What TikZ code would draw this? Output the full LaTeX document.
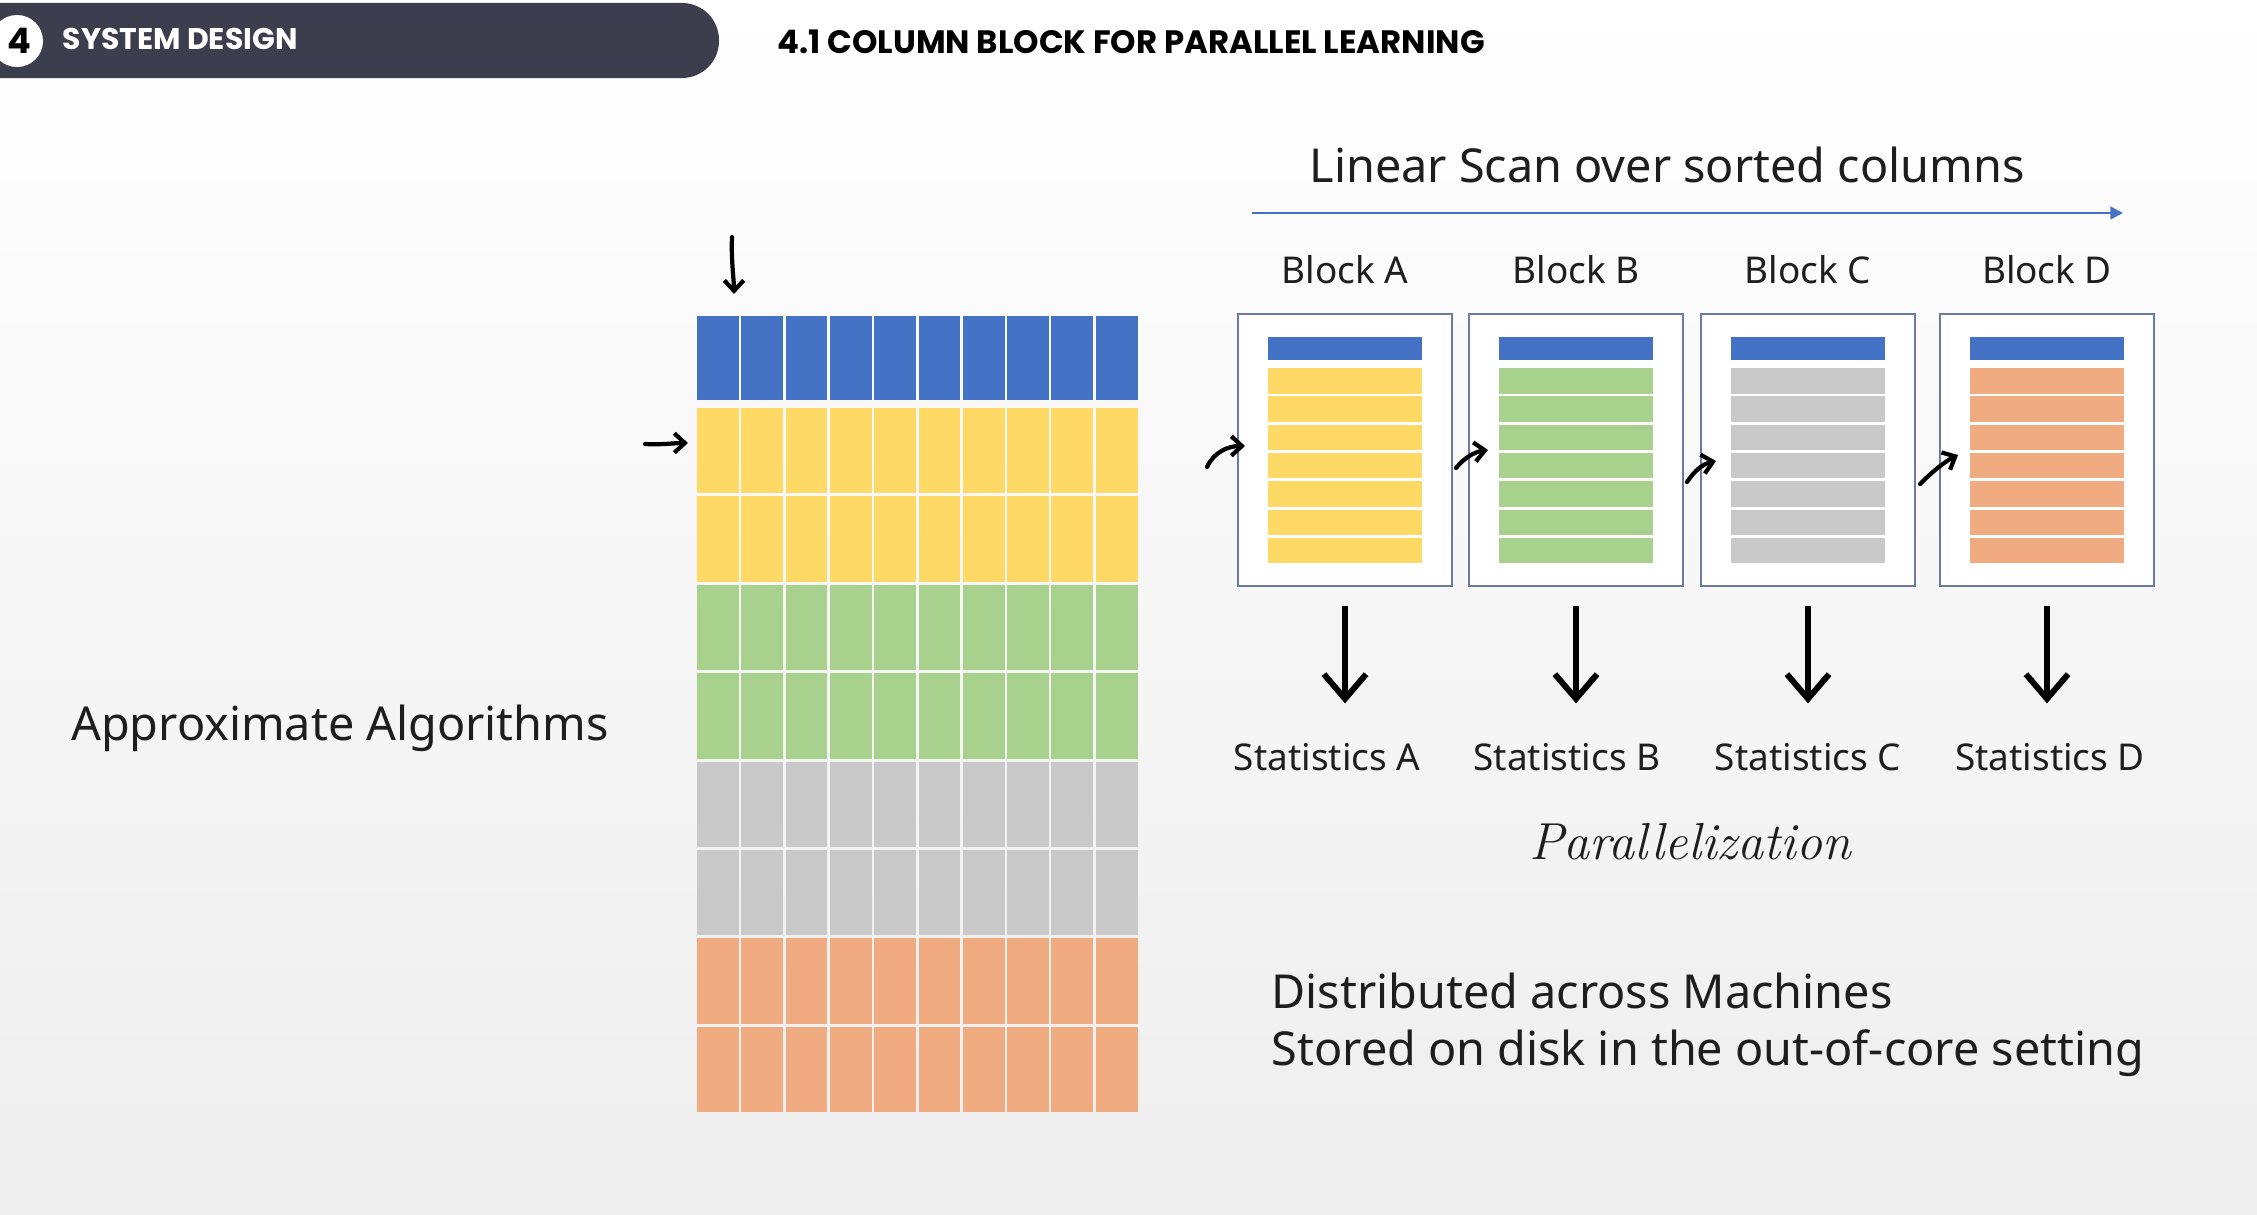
\documentclass[tikz,border=0pt]{standalone}
\usepackage{fontspec}
\setsansfont{Noto Sans}
\newfontfamily\headfont{Poppins}
\usepackage{tikz}
\usetikzlibrary{positioning,arrows.meta,calc}
\definecolor{headbar}{RGB}{60,61,77}
\definecolor{scanblue}{RGB}{68,114,196}
\definecolor{cellyellow}{RGB}{255,217,102}
\definecolor{cellgreen}{RGB}{169,209,142}
\definecolor{cellgray}{RGB}{201,201,201}
\definecolor{cellorange}{RGB}{240,172,128}
\definecolor{frameblue}{RGB}{108,120,166}
\definecolor{textdark}{RGB}{30,30,30}
\definecolor{bgbottom}{RGB}{238,238,238}

\begin{document}
\begin{tikzpicture}[x=0.01cm, y=-0.01cm]
    \tikzstyle{blockframe} = [rectangle, draw=frameblue, line width=0.7pt, fill=white, minimum width=2.14cm, minimum height=2.72cm, inner sep=0pt]
    \tikzstyle{blocktitle} = [font=\sffamily\fontsize{10.5}{12}\selectfont, text=textdark]
    \tikzstyle{stattext} = [font=\sffamily\fontsize{10.5}{12}\selectfont, text=textdark]
    \tikzstyle{bigtext} = [font=\sffamily\fontsize{13.3}{16.2}\selectfont, text=textdark]
    \tikzstyle{bigarrow} = [line width=1.7pt, -{Straight Barb[length=7pt,width=12pt]}]
    \tikzstyle{handarrow} = [line width=1.2pt, line cap=round, -{Straight Barb[length=3pt,width=5.5pt]}]
    \tikzstyle{scanarrow} = [draw=scanblue, line width=0.7pt, -{Triangle[length=3.6pt,width=3.6pt]}]

    % Background
    \useasboundingbox (0,0) rectangle (2257,1215);
    \shade[top color=white, bottom color=bgbottom] (0,0) rectangle (2257,1215);

    % Header bar
    \begin{scope}
        \clip (0,0) rectangle (2257,1215);
        \fill[headbar, rounded corners=0.37cm] (-60,3) rectangle (719,78);
        \fill[white] (17,41) circle (0.26cm);
    \end{scope}
    \node[font=\headfont\bfseries\fontsize{10}{12}\selectfont] (secnum) at (19,41) {4};
    \node[font=\headfont\bfseries\fontsize{8.5}{10}\selectfont, text=white, anchor=west, inner sep=0pt] (sectitle) at (62,39) {SYSTEM DESIGN};
    \node[font=\headfont\bfseries\fontsize{9.2}{10}\selectfont, text=black, anchor=west, inner sep=0pt] (subtitle) at (777,42) {4.1 COLUMN BLOCK FOR PARALLEL LEARNING};

    % Column grid
    \foreach \i in {0,...,9} {
        \fill[scanblue] ({697+44.3*\i},316) rectangle ++(41.8,84);
        \foreach \j/\col in {0/cellyellow,1/cellyellow,2/cellgreen,3/cellgreen,4/cellgray,5/cellgray,6/cellorange,7/cellorange}
            \fill[\col] ({697+44.3*\i},{408+88.4*\j}) rectangle ++(41.8,85.4);
    }
    \coordinate (downstart) at (732,237);
    \coordinate (downend) at (734,294);
    \coordinate (rowstart) at (645,444);
    \coordinate (rowend) at (688,443);
    \draw[handarrow] (downstart) .. controls (731,260) and (734,280) .. (downend);
    \draw[handarrow] (rowstart) .. controls (660,445) and (675,443) .. (rowend);

    \node[bigtext] (approx) at (340,728) {Approximate Algorithms};

    % Linear scan
    \coordinate (scanstart) at (1252,213);
    \coordinate (scanend) at (2123,213);
    \draw[scanarrow] (scanstart) -- (scanend);
    \node[bigtext] (scantext) at (1667,165) {Linear Scan over sorted columns};

    % Blocks
    \foreach \n/\cx/\sx/\col in {A/1345/1327/cellyellow, B/1576/1567/cellgreen, C/1808/1808/cellgray, D/2047/2050/cellorange} {
        \node[blockframe] (block\n) at (\cx,450) {};
        \node[blocktitle, above=0.16cm of block\n] (title\n) {Block \n};
        \fill[scanblue] ({\cx-77},337) rectangle ({\cx+77},360);
        \foreach \k in {0,...,6}
            \fill[\col] ({\cx-77},{368+28.3*\k}) rectangle ({\cx+77},{393.5+28.3*\k});
        \node[stattext] (stat\n) at (\sx,757) {Statistics \n};
        \draw[bigarrow] ([yshift=-0.19cm]block\n.south) -- ([yshift=-1.16cm]block\n.south);
    }

    % Hand-drawn arrows into the blocks
    \coordinate (inA) at (1245,446);
    \coordinate (inB) at (1488,450);
    \coordinate (inC) at (1716,461);
    \coordinate (inD) at (1958,455);
    \draw[handarrow] (1207,467) .. controls (1214,452) and (1228,446) .. (inA);
    \draw[handarrow] (1456,468) .. controls (1464,458) and (1474,452) .. (inB);
    \draw[handarrow] (1687,482) .. controls (1695,470) and (1703,464) .. (inC);
    \draw[handarrow] (1920,484) .. controls (1932,472) and (1944,462) .. (inD);

    \node[font=\rmfamily\itshape\fontsize{14.8}{17}\selectfont, text=textdark] (para) at (1690,842) {Parallelization};
    \node[bigtext, anchor=west, align=left, inner sep=0pt] (distrib) at (1271,1025) {Distributed across Machines\\Stored on disk in the out-of-core setting};
\end{tikzpicture}
\end{document}
